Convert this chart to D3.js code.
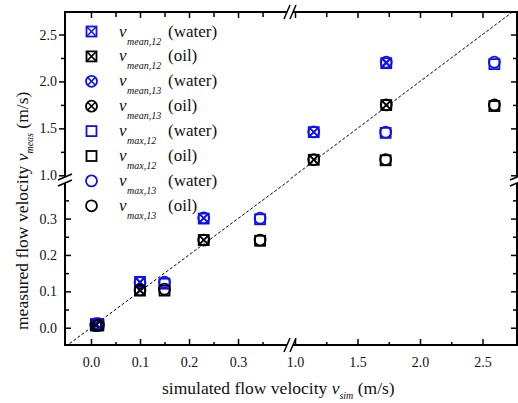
<!DOCTYPE html>
<html>
<head>
<meta charset="utf-8">
<script src="https://cdn.jsdelivr.net/npm/d3@7"></script>
<style>
  body { margin: 0; background: #fff; }
</style>
</head>
<body>
<div id="chart"></div>
<script>
// simulated velocities (x) for the mean and the max evaluation
var simMean = [0.01, 0.10, 0.23, 1.15, 1.73];
var simMax  = [0.015, 0.15, 0.345, 1.725, 2.595];

// measured velocities (y)
var meanWater12 = [0.010, 0.126, 0.300, 1.460, 2.195];
var meanOil12   = [0.006, 0.102, 0.241, 1.165, 1.748];
var meanWater13 = [0.011, 0.124, 0.302, 1.462, 2.205];
var meanOil13   = [0.006, 0.104, 0.241, 1.168, 1.750];
var maxWater12  = [0.010, 0.121, 0.298, 1.452, 2.185];
var maxOil12    = [0.006, 0.102, 0.239, 1.160, 1.738];
var maxWater13  = [0.011, 0.125, 0.301, 1.460, 2.205];
var maxOil13    = [0.007, 0.106, 0.241, 1.168, 1.750];

// tick values of the broken axes
var xTicksLo = [0.0, 0.1, 0.2, 0.3], xMinorLo = [0.05, 0.15, 0.25, 0.35];
var xTicksHi = [1.0, 1.5, 2.0, 2.5], xMinorHi = [1.25, 1.75, 2.25];
var yTicksLo = [0.0, 0.1, 0.2, 0.3], yMinorLo = [0.05, 0.15, 0.25, 0.35];
var yTicksHi = [1.0, 1.5, 2.0, 2.5], yMinorHi = [1.25, 1.75, 2.25];

var series = [
  { sub: "mean,12", fluid: "(water)", color: "#1010f0", shape: "sqx", x: simMean, y: meanWater12 },
  { sub: "mean,12", fluid: "(oil)",   color: "#000",    shape: "sqx", x: simMean, y: meanOil12 },
  { sub: "mean,13", fluid: "(water)", color: "#1010f0", shape: "cix", x: simMean, y: meanWater13 },
  { sub: "mean,13", fluid: "(oil)",   color: "#000",    shape: "cix", x: simMean, y: meanOil13 },
  { sub: "max,12",  fluid: "(water)", color: "#1010f0", shape: "sq",  x: simMax,  y: maxWater12 },
  { sub: "max,12",  fluid: "(oil)",   color: "#000",    shape: "sq",  x: simMax,  y: maxOil12 },
  { sub: "max,13",  fluid: "(water)", color: "#1010f0", shape: "ci",  x: simMax,  y: maxWater13 },
  { sub: "max,13",  fluid: "(oil)",   color: "#000",    shape: "ci",  x: simMax,  y: maxOil13 }
];

var serif = "'Liberation Serif', 'Times New Roman', serif";
var W = 518, H = 403;
var L = 65, R = 517, T = 12, B = 345, BX = 290, BY = 180;

var svg = d3.select("#chart").append("svg")
  .attr("width", W).attr("height", H);

// the two pieces of each axis
var xLo = d3.scaleLinear().domain([-0.053, 0.406]).range([L, BX]);
var xHi = d3.scaleLinear().domain([0.96, 2.776]).range([BX, R]);
var yLo = d3.scaleLinear().domain([-0.0475, 0.406]).range([B, BY]);
var yHi = d3.scaleLinear().domain([0.95, 2.74]).range([BY, T]);

function px(v) { return v < 0.7 ? xLo(v) : xHi(v); }
function py(v) { return v < 0.7 ? yLo(v) : yHi(v); }

// clip paths for the dashed 1:1 line
var defs = svg.append("defs");
defs.append("clipPath").attr("id", "clipLo").append("rect")
  .attr("x", L).attr("y", BY).attr("width", BX - L).attr("height", B - BY);
defs.append("clipPath").attr("id", "clipHi").append("rect")
  .attr("x", BX).attr("y", T).attr("width", R - BX).attr("height", BY - T);

var line = d3.line().x(function(d) { return px(d); }).y(function(d) { return py(d); });
svg.append("path").datum([-0.06, 0.5])
  .attr("clip-path", "url(#clipLo)")
  .attr("d", line).attr("fill", "none")
  .attr("stroke", "#000").attr("stroke-width", 1).attr("stroke-dasharray", "3,2");
svg.append("path").datum([0.9, 2.9])
  .attr("clip-path", "url(#clipHi)")
  .attr("d", line).attr("fill", "none")
  .attr("stroke", "#000").attr("stroke-width", 1).attr("stroke-dasharray", "3,2");

// axes
function addAxis(gen, scale, vals, size, fmt, pad, tx, ty) {
  var ax = gen(scale).tickValues(vals).tickSize(size).tickPadding(pad).tickFormat(fmt);
  var g = svg.append("g").attr("transform", "translate(" + tx + "," + ty + ")").call(ax);
  g.select(".domain").remove();
  g.selectAll("line").attr("stroke", "#000").attr("stroke-width", 1.5);
  g.selectAll("text").attr("font-family", serif).attr("font-size", 14).attr("fill", "#111");
}
var f1 = d3.format(".1f"), none = function() { return ""; };

// bottom
addAxis(d3.axisBottom, xLo, xTicksLo, -6, f1, 12, 0, B);
addAxis(d3.axisBottom, xLo, xMinorLo, -3, none, 12, 0, B);
addAxis(d3.axisBottom, xHi, xTicksHi, -6, f1, 12, 0, B);
addAxis(d3.axisBottom, xHi, xMinorHi, -3, none, 12, 0, B);
// top
addAxis(d3.axisTop, xLo, xTicksLo, -6, none, 3, 0, T);
addAxis(d3.axisTop, xLo, xMinorLo, -5, none, 3, 0, T);
addAxis(d3.axisTop, xHi, xTicksHi, -6, none, 3, 0, T);
addAxis(d3.axisTop, xHi, xMinorHi, -5, none, 3, 0, T);
// left
addAxis(d3.axisLeft, yLo, yTicksLo, -6, f1, 8, L, 0);
addAxis(d3.axisLeft, yLo, yMinorLo, -4, none, 8, L, 0);
addAxis(d3.axisLeft, yHi, yTicksHi, 6, f1, 2, L, 0);
addAxis(d3.axisLeft, yHi, yMinorHi, 4, none, 2, L, 0);
// right
addAxis(d3.axisRight, yLo, yTicksLo, -6, none, 3, R, 0);
addAxis(d3.axisRight, yLo, yMinorLo, -4, none, 3, R, 0);
addAxis(d3.axisRight, yHi, yTicksHi, -6, none, 3, R, 0);
addAxis(d3.axisRight, yHi, yMinorHi, -4, none, 3, R, 0);

// frame
svg.append("rect").attr("x", L).attr("y", T).attr("width", R - L).attr("height", B - T)
  .attr("fill", "none").attr("stroke", "#000").attr("stroke-width", 2);

// axis break marks
function breakH(x, y) {
  svg.append("polygon")
    .attr("points", [[x - 6, y + 7], [x + 0, y - 7], [x + 6, y - 7], [x, y + 7]].join(" "))
    .attr("fill", "#fff");
  [-3, 3].forEach(function(d) {
    svg.append("line").attr("x1", x + d - 3).attr("y1", y + 7).attr("x2", x + d + 3).attr("y2", y - 7)
      .attr("stroke", "#000").attr("stroke-width", 1.5);
  });
}
function breakV(x, y) {
  svg.append("polygon")
    .attr("points", [[x - 7, y + 6], [x + 7, y], [x + 7, y - 6], [x - 7, y]].join(" "))
    .attr("fill", "#fff");
  [-3, 3].forEach(function(d) {
    svg.append("line").attr("x1", x - 7).attr("y1", y + d + 3).attr("x2", x + 7).attr("y2", y + d - 3)
      .attr("stroke", "#000").attr("stroke-width", 1.5);
  });
}
breakH(BX, B); breakH(BX, T); breakV(L, BY); breakV(R, BY);

// markers
function marker(g, shape, color) {
  var sw = 1.8;
  if (shape.indexOf("sq") === 0) {
    g.append("rect").attr("x", -5).attr("y", -5).attr("width", 10).attr("height", 10)
      .attr("fill", "none").attr("stroke", color).attr("stroke-width", sw);
  } else {
    g.append("circle").attr("r", 5.5)
      .attr("fill", "none").attr("stroke", color).attr("stroke-width", sw);
  }
  if (shape.slice(-1) === "x") {
    var a = shape.indexOf("sq") === 0 ? 5 : 3.9;
    g.append("line").attr("x1", -a).attr("y1", -a).attr("x2", a).attr("y2", a)
      .attr("stroke", color).attr("stroke-width", 1.5);
    g.append("line").attr("x1", -a).attr("y1", a).attr("x2", a).attr("y2", -a)
      .attr("stroke", color).attr("stroke-width", 1.5);
  }
}

series.forEach(function(s) {
  s.x.forEach(function(xv, i) {
    var g = svg.append("g").attr("transform", "translate(" + px(xv) + "," + py(s.y[i]) + ")");
    marker(g, s.shape, s.color);
  });
});

// legend
series.forEach(function(s, i) {
  var yy = 31.5 + i * 24.9;
  marker(svg.append("g").attr("transform", "translate(91.5," + yy + ")"), s.shape, s.color);
  svg.append("text").attr("x", 119).attr("y", yy + 5)
    .attr("font-family", serif).attr("font-size", 17).attr("font-style", "italic").attr("fill", "#111")
    .text("v");
  svg.append("text").attr("x", 127).attr("y", yy + 13)
    .attr("font-family", serif).attr("font-size", 10).attr("font-style", "italic").attr("fill", "#111")
    .text(s.sub);
  svg.append("text").attr("x", 168).attr("y", yy + 5)
    .attr("font-family", serif).attr("font-size", 17).attr("fill", "#111")
    .text(s.fluid);
});

// axis titles
var xt = svg.append("text").attr("x", 162).attr("y", 394)
  .attr("font-family", serif).attr("font-size", 17.5).attr("fill", "#111");
xt.append("tspan").text("simulated flow velocity ");
xt.append("tspan").attr("font-style", "italic").text("v");
xt.append("tspan").attr("font-style", "italic").attr("font-size", 10).attr("dy", 5).text("sim");
xt.append("tspan").attr("dy", -5).text(" (m/s)");

var yt = svg.append("text").attr("transform", "translate(28,330) rotate(-90)")
  .attr("font-family", serif).attr("font-size", 17.5).attr("fill", "#111");
yt.append("tspan").text("measured flow velocity ");
yt.append("tspan").attr("font-style", "italic").text("v");
yt.append("tspan").attr("font-style", "italic").attr("font-size", 10).attr("dy", 5).text("meas");
yt.append("tspan").attr("dy", -5).text(" (m/s)");
</script>
</body>
</html>
